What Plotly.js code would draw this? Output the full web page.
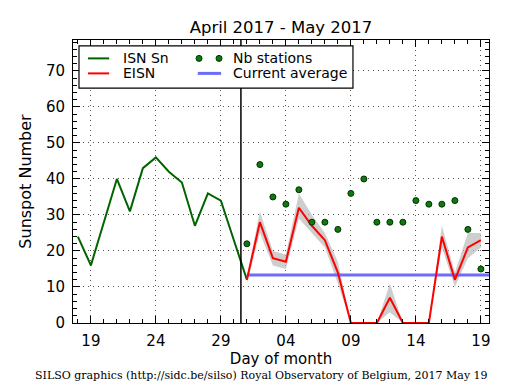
<!DOCTYPE html>
<html>
<head>
<meta charset="utf-8">
<script src="https://cdn.plot.ly/plotly-3.0.1.min.js"></script>
<style>
  html, body { margin: 0; padding: 0; background: #fff; }
  #chart { width: 515px; height: 390px; }
</style>
</head>
<body>
<div id="chart"></div>
<script>
// ---- Data ----
const isnDates = ['2017-04-18','2017-04-19','2017-04-20','2017-04-21','2017-04-22','2017-04-23','2017-04-24',
                  '2017-04-25','2017-04-26','2017-04-27','2017-04-28','2017-04-29','2017-04-30','2017-05-01'];
const isnValues = [24, 16, 28, 40, 31, 43, 46, 42, 39, 27, 36, 34, 23, 12];

const eisnDates = ['2017-05-01','2017-05-02','2017-05-03','2017-05-04','2017-05-05','2017-05-06','2017-05-07',
                   '2017-05-08','2017-05-09','2017-05-10','2017-05-11','2017-05-12','2017-05-13','2017-05-14',
                   '2017-05-15','2017-05-16','2017-05-17','2017-05-18','2017-05-19'];
const eisnValues = [12, 28, 18, 17, 32, 27, 23, 14, 0, 0, 0, 7, 0, 0, 0, 24, 12, 21, 23];
const eisnHigh   = [13, 31, 20, 19, 36, 30, 25, 17, 0, 0, 0, 11, 0, 0, 0, 27, 14, 25, 25];
const eisnLow    = [11, 25, 16, 15, 29, 25, 21, 11, 0, 0, 0, 3, 0, 0, 0, 21, 10, 18, 21];

const nbStations = [22, 44, 35, 33, 37, 28, 28, 26, 36, 40, 28, 28, 28, 34, 33, 33, 34, 26, 15];

const avgDates = ['2017-05-01', '2017-05-20'];
const avgValue = [13.3, 13.3];

const dividerDate = '2017-04-30 13:00';

const titleText = 'April 2017 - May 2017';
const legendLabels = ['ISN Sn', 'EISN', 'Nb stations', 'Current average'];
const footerText = 'SILSO graphics (http://sidc.be/silso) Royal Observatory of Belgium, 2017 May 19';

// ---- Styles ----
const FONT = 'DejaVu Sans, Liberation Sans, sans-serif';
const GREEN = '#006400';
const RED = '#ff0000';
const BLUE = 'rgba(100,100,255,0.95)';
const BAND = 'rgba(185,185,185,0.7)';
const GRID = '#555555';

const traces = [
  { x: eisnDates, y: eisnLow, type: 'scatter', mode: 'lines', line: {width: 0, color: BAND},
    hoverinfo: 'skip', showlegend: false },
  { x: eisnDates, y: eisnHigh, type: 'scatter', mode: 'lines', line: {width: 0, color: BAND},
    fill: 'tonexty', fillcolor: BAND, hoverinfo: 'skip', showlegend: false },
  { x: avgDates, y: avgValue, type: 'scatter', mode: 'lines', name: legendLabels[3],
    line: {color: BLUE, width: 3}, showlegend: false },
  { x: isnDates, y: isnValues, type: 'scatter', mode: 'lines', name: legendLabels[0],
    line: {color: GREEN, width: 2}, showlegend: false },
  { x: eisnDates, y: eisnValues, type: 'scatter', mode: 'lines', name: legendLabels[1],
    line: {color: RED, width: 2}, showlegend: false },
  { x: eisnDates, y: nbStations, type: 'scatter', mode: 'markers', name: legendLabels[2],
    marker: {color: '#117711', size: 6, line: {color: '#003300', width: 1}}, showlegend: false }
];

// legend box (paper coords of plot area)
const lg = {x0: 0.0144, x1: 0.673, y0: 0.830, y1: 0.979};
const row1 = 0.935, row2 = 0.882;
const shapes = [
  { type: 'line', xref: 'x', yref: 'paper', x0: dividerDate, x1: dividerDate, y0: 0, y1: 1,
    line: {color: 'black', width: 1.5} },
  { type: 'rect', xref: 'paper', yref: 'paper', x0: lg.x0, x1: lg.x1, y0: lg.y0, y1: lg.y1,
    line: {color: 'black', width: 1.2}, fillcolor: 'white', layer: 'above' },
  { type: 'line', xref: 'paper', yref: 'paper', x0: 0.036, x1: 0.087, y0: row1, y1: row1,
    line: {color: GREEN, width: 2}, layer: 'above' },
  { type: 'line', xref: 'paper', yref: 'paper', x0: 0.036, x1: 0.087, y0: row2, y1: row2,
    line: {color: RED, width: 2}, layer: 'above' },
  { type: 'line', xref: 'paper', yref: 'paper', x0: 0.300, x1: 0.356, y0: row2, y1: row2,
    line: {color: BLUE, width: 3}, layer: 'above' },
  { type: 'circle', xref: 'paper', yref: 'paper', xsizemode: 'pixel', ysizemode: 'pixel',
    xanchor: 0.303, yanchor: row1, x0: -3, x1: 3, y0: -3, y1: 3,
    fillcolor: '#117711', line: {color: '#003300', width: 1}, layer: 'above' },
  { type: 'circle', xref: 'paper', yref: 'paper', xsizemode: 'pixel', ysizemode: 'pixel',
    xanchor: 0.351, yanchor: row1, x0: -3, x1: 3, y0: -3, y1: 3,
    fillcolor: '#117711', line: {color: '#003300', width: 1}, layer: 'above' }
];

const legendFont = {family: FONT, size: 14, color: 'black'};
const annotations = [
  { xref: 'paper', yref: 'paper', x: 0.115, y: row1, xanchor: 'left', yanchor: 'middle',
    text: legendLabels[0], showarrow: false, font: legendFont },
  { xref: 'paper', yref: 'paper', x: 0.115, y: row2, xanchor: 'left', yanchor: 'middle',
    text: legendLabels[1], showarrow: false, font: legendFont },
  { xref: 'paper', yref: 'paper', x: 0.380, y: row1, xanchor: 'left', yanchor: 'middle',
    text: legendLabels[2], showarrow: false, font: legendFont },
  { xref: 'paper', yref: 'paper', x: 0.380, y: row2, xanchor: 'left', yanchor: 'middle',
    text: legendLabels[3], showarrow: false, font: legendFont },
  { xref: 'paper', yref: 'paper', x: 0.454, y: -0.187, xanchor: 'center', yanchor: 'middle',
    text: footerText, showarrow: false,
    font: {family: 'DejaVu Serif, Liberation Serif, serif', size: 11, color: 'black'} }
];

const layout = {
  width: 515, height: 390,
  margin: {l: 73, r: 26, t: 40, b: 67, pad: 0},
  paper_bgcolor: 'white', plot_bgcolor: 'white',
  font: {family: FONT, size: 15, color: 'black'},
  title: { text: titleText, font: {family: FONT, size: 16.5, color: 'black', weight: 'normal'},
           x: 0.5, xref: 'paper', xanchor: 'center', y: 0.931, yref: 'container', yanchor: 'middle' },
  showlegend: false,
  xaxis: {
    type: 'date',
    range: ['2017-04-17 15:00', '2017-05-19 15:00'],
    tick0: '2017-04-19', dtick: 5 * 86400000,
    tickformat: '%d',
    ticks: 'inside', ticklen: 7, tickwidth: 1, tickcolor: 'black',
    minor: {dtick: 86400000, tick0: '2017-04-19', ticks: 'inside', ticklen: 4, tickcolor: 'black', showgrid: false},
    showline: true, linecolor: 'black', linewidth: 1, mirror: 'allticks',
    showgrid: true, gridcolor: GRID, griddash: '1px,4px', gridwidth: 1,
    zeroline: false,
    tickfont: {family: FONT, size: 15, color: 'black'},
    ticklabelstandoff: 4,
    title: {text: 'Day of month', font: {family: FONT, size: 15, color: 'black'}, standoff: 4},
    automargin: false
  },
  yaxis: {
    range: [0, 78.6],
    dtick: 10, tick0: 0,
    ticks: 'inside', ticklen: 7, tickwidth: 1, tickcolor: 'black',
    minor: {dtick: 2, ticks: 'inside', ticklen: 4, tickcolor: 'black', showgrid: false},
    showline: true, linecolor: 'black', linewidth: 1, mirror: 'allticks',
    showgrid: true, gridcolor: GRID, griddash: '1px,4px', gridwidth: 1,
    zeroline: false,
    tickfont: {family: FONT, size: 15, color: 'black'},
    ticklabelstandoff: 4,
    title: {text: 'Sunspot Number', font: {family: FONT, size: 16, color: 'black'}, standoff: 10},
    automargin: false
  },
  shapes: shapes,
  annotations: annotations
};

Plotly.newPlot('chart', traces, layout, {displayModeBar: false, staticPlot: true});
</script>
</body>
</html>
